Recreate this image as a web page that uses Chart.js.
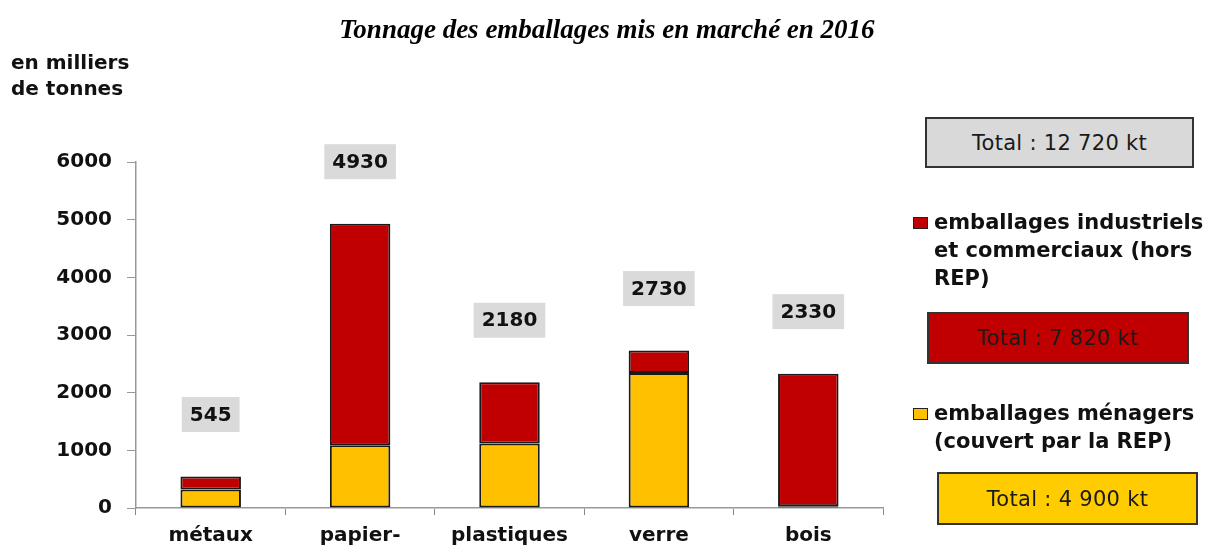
<!DOCTYPE html>
<html lang="fr">
<head>
<meta charset="utf-8">
<script src="https://cdn.jsdelivr.net/npm/chart.js@4"></script>
<style>
  html, body { margin: 0; padding: 0; width: 1210px; height: 546px; overflow: hidden; background: #fff; }
  #wrap { position: relative; width: 1210px; height: 546px; overflow: hidden; }
  #c { position: absolute; left: 0; top: 0; }
  .txt { position: absolute; color: #111; white-space: nowrap; }
  #title { left: 0; width: 1214px; top: 13px; text-align: center; font: italic bold 27px "Liberation Serif", serif; color: #000; line-height: 32px; }
  #unit { left: 11px; top: 49px; font: bold 20px "DejaVu Sans", sans-serif; line-height: 26px; }
  .tbox { position: absolute; box-sizing: border-box; border: 2px solid #333; text-align: center; font: 21px "DejaVu Sans", sans-serif; color: #1a1a1a; display: flex; align-items: center; justify-content: center; letter-spacing: 0.3px; }
  .lg { position: absolute; font: bold 21px "DejaVu Sans", sans-serif; line-height: 28px; color: #111; }
  .mk { position: absolute; box-sizing: border-box; width: 15px; height: 12px; border: 1.5px solid #222; }
</style>
</head>
<body>
<div id="wrap">
  <canvas id="c" width="1210" height="600"></canvas>
  <div id="title" class="txt">Tonnage des emballages mis en marché en 2016</div>
  <div id="unit" class="txt">en milliers<br>de tonnes</div>
  <div id="legend"></div>
</div>
<script>
// ---- data ----
const categories = [["métaux"], ["papier-", "carton"], ["plastiques"], ["verre"], ["bois"]];
const seriesNames = ["emballages ménagers (couvert par la REP)", "emballages industriels et commerciaux (hors REP)"];
const menagers = [320, 1090, 1120, 2340, 30];
const industriels = [225, 3840, 1060, 390, 2300];
const yTicks = [0, 1000, 2000, 3000, 4000, 5000, 6000];
const totalAll = "Total : 12 720 kt";
const totalIndustriels = "Total : 7 820 kt";
const totalMenagers = "Total : 4 900 kt";

const RED = "#c00000";
const YELLOW = "#ffc000";
const FONT = '"DejaVu Sans", sans-serif';

// value boxes above bars
const totalsPlugin = {
  id: "totalsBoxes",
  afterDatasetsDraw(chart) {
    const ctx = chart.ctx;
    const y = chart.scales.y;
    const meta = chart.getDatasetMeta(chart.data.datasets.length - 1);
    ctx.save();
    ctx.font = "bold 20px " + FONT;
    ctx.textAlign = "center";
    ctx.textBaseline = "middle";
    chart.data.labels.forEach((_, i) => {
      const total = chart.data.datasets.reduce((s, d) => s + d.data[i], 0);
      const x = meta.data[i].x;
      const cy = y.getPixelForValue(total) - 62;
      const txt = String(total);
      const w = ctx.measureText(txt).width + 16;
      const h = 35;
      ctx.fillStyle = "#dadada";
      ctx.fillRect(x - w / 2, cy - h / 2, w, h);
      ctx.fillStyle = "#111";
      ctx.fillText(txt, x, cy + 1);
    });
    ctx.restore();
  }
};

const chart = new Chart(document.getElementById("c"), {
  type: "bar",
  data: {
    labels: categories,
    datasets: [
      { label: seriesNames[0], data: menagers, backgroundColor: YELLOW, borderColor: "#1a1a1a", borderWidth: 2, borderSkipped: false, categoryPercentage: 1, barPercentage: 0.405 },
      { label: seriesNames[1], data: industriels, backgroundColor: RED, borderColor: "#1a1a1a", borderWidth: 2, borderSkipped: false, categoryPercentage: 1, barPercentage: 0.405 }
    ]
  },
  options: {
    responsive: false,
    animation: false,
    devicePixelRatio: 1,
    layout: { padding: { top: 162, right: 327, bottom: 0, left: 0 } },
    plugins: { legend: { display: false }, tooltip: { enabled: false }, title: { display: false } },
    scales: {
      x: {
        stacked: true,
        grid: { offset: true, drawOnChartArea: false, tickLength: 7, color: "#888", tickColor: "#888" },
        border: { color: "#999", width: 1.5 },
        ticks: { font: { family: FONT, size: 20, weight: "bold" }, color: "#111", padding: 9, maxRotation: 0, autoSkip: false },
        afterFit(s) { s.height = 92; }
      },
      y: {
        stacked: true,
        min: 0, max: 6000,
        afterBuildTicks(s) { s.ticks = yTicks.map(v => ({ value: v })); },
        grid: { drawOnChartArea: false, tickLength: 9, color: "#999", tickColor: "#999" },
        border: { color: "#999", width: 1.5 },
        ticks: { font: { family: FONT, size: 20, weight: "bold" }, color: "#111", padding: 15, callback: v => String(v) },
        afterFit(s) { s.width = 136; }
      }
    }
  },
  plugins: [totalsPlugin]
});

// ---- legend (built from the datasets) ----
const lg = document.getElementById("legend");
function box(text, left, top, w, h, bg) {
  const d = document.createElement("div");
  d.className = "tbox";
  d.style.cssText = `left:${left}px;top:${top}px;width:${w}px;height:${h}px;background:${bg};`;
  d.textContent = text;
  lg.appendChild(d);
}
function entry(ds, top, lines) {
  const m = document.createElement("div");
  m.className = "mk";
  m.style.cssText = `left:913px;top:${top - 5}px;background:${ds.backgroundColor};`;
  lg.appendChild(m);
  const t = document.createElement("div");
  t.className = "lg";
  t.style.cssText = `left:934px;top:${top - 14}px;`;
  t.innerHTML = lines.join("<br>");
  lg.appendChild(t);
}
box(totalAll, 925, 117, 269, 51, "#d9d9d9");
entry(chart.data.datasets[1], 222, ["emballages industriels", "et commerciaux (hors", "REP)"]);
box(totalIndustriels, 927, 312, 262, 52, RED);
entry(chart.data.datasets[0], 413, ["emballages ménagers", "(couvert par la REP)"]);
box(totalMenagers, 937, 472, 261, 53, "#ffcc00");
</script>
</body>
</html>
